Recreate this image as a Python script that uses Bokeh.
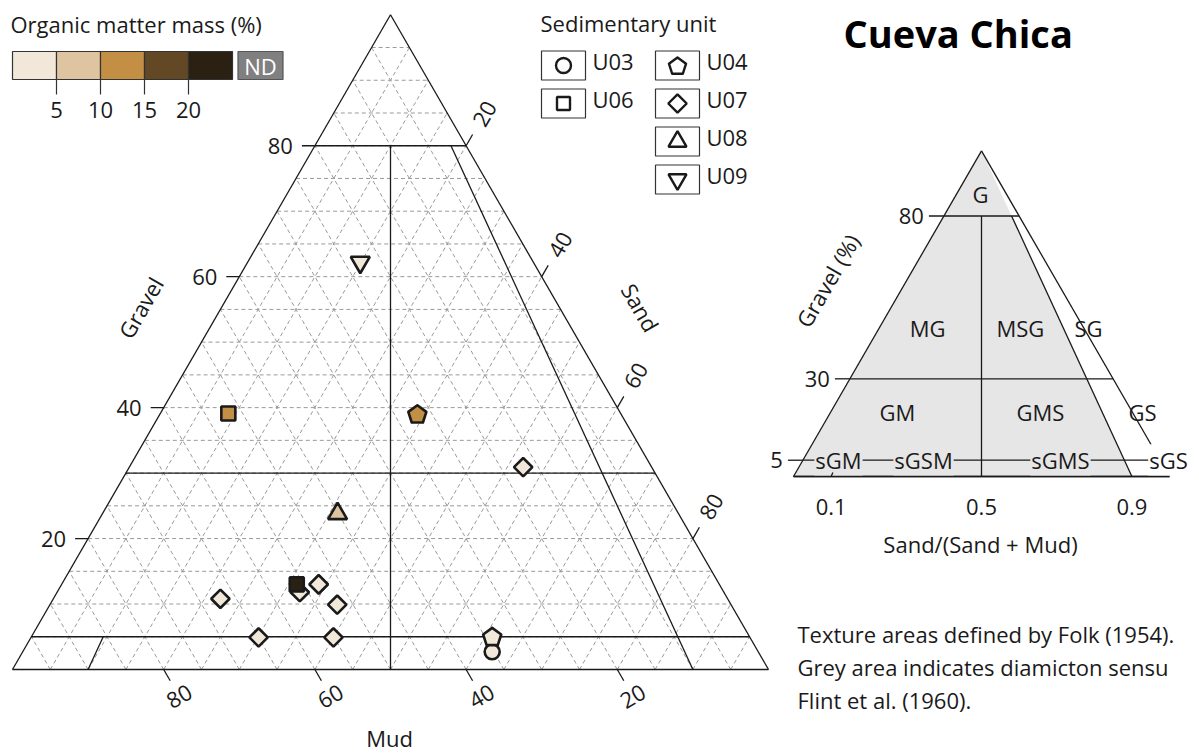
import numpy as np
from bokeh.plotting import figure
from bokeh.models import Range1d, ColumnDataSource
from bokeh.core.properties import value
from bokeh.embed import file_html
from bokeh.resources import INLINE

# ---------------- data ----------------
units   = ["U03", "U07", "U07", "U07", "U07", "U07", "U07", "U07", "U07",
           "U06", "U06", "U04", "U04", "U08", "U09"]
gravel  = [2.7, 30.9, 11.8, 13.0, 9.9, 10.8, 4.9, 4.9, 13.0,
           13.0, 39.1, 38.9, 4.9, 23.8, 62.2]
sand    = [62.1, 52.1, 32.1, 34.0, 38.0, 22.1, 30.1, 40.0, 34.0,
           31.1, 9.0, 34.1, 61.0, 31.1, 14.9]
mud     = [35.2, 17.0, 56.1, 53.0, 52.1, 67.1, 65.0, 55.1, 53.0,
           55.9, 51.9, 27.0, 34.1, 45.1, 22.9]
organic = [3.0, 2.5, 3.0, 3.5, 3.0, 2.5, 3.0, 3.0, 3.5,
           22.0, 12.5, 12.0, 3.5, 7.5, 3.0]

om_edges  = [5, 10, 15, 20]
om_labels = ["5", "10", "15", "20"]
om_colors = ["#F2E8DA", "#DFC4A1", "#C28F45", "#634826", "#2B2113"]
nd_color  = "#808080"

unit_names   = ["U03", "U04", "U06", "U07", "U08", "U09"]
unit_markers = {"U03": "circle", "U04": "pentagon", "U06": "square",
                "U07": "diamond", "U08": "triangle", "U09": "inverted_triangle"}

grav_ticks = [20, 40, 60, 80]
sand_ticks = [20, 40, 60, 80]
mud_ticks  = [80, 60, 40, 20]
grid_step  = 5

# Folk (1954) texture classes: label, gravel %, sand % at label position
folk_regions = [("G", 86.9, 6.3), ("MG", 45.5, 12.9), ("MSG", 45.5, 37.6), ("SG", 45.5, 55.7),
                ("GM", 19.7, 17.8), ("GMS", 19.7, 55.8), ("GS", 19.7, 83.0)]
folk_gravel_ticks = [80, 30, 5]
folk_ratio_ticks = ["0.1", "0.5", "0.9"]

FONT = "Open Sans"
INK = "#1a1a1a"
SQ = np.sqrt(3) / 2

# main triangle frame (screen units)
MX0, MY0, MW = 12, 669, 756
# Folk diagram frame
FX0, FY0, FW = 793, 476, 376

PW, PH = 1195, 753


def tern(g, s, X0, Y0, W):
    g = np.asarray(g, float)
    s = np.asarray(s, float)
    return X0 + W * (s + g / 2) / 100, Y0 - W * SQ * g / 100


p = figure(width=PW, height=PH, x_range=Range1d(0, PW), y_range=Range1d(PH, 0),
           output_backend="svg", toolbar_location=None, min_border=0,
           x_axis_type=None, y_axis_type=None)
p.outline_line_color = None
p.background_fill_color = "white"


def txt(x, y, t, size="22px", align="center", baseline="middle", angle=0.0,
        color=INK, style="normal", **kw):
    p.text(x=[x], y=[y], text=[t], text_font=value(FONT), text_font_size=size,
           text_align=align, text_baseline=baseline, angle=angle,
           text_color=color, text_font_style=style, **kw)


def segs(pairs, X0, Y0, W):
    xs, ys = [], []
    for (g1, s1), (g2, s2) in pairs:
        x, y = tern([g1, g2], [s1, s2], X0, Y0, W)
        xs.append(list(x)); ys.append(list(y))
    return xs, ys


# ---------------- main ternary ----------------
lv = np.arange(grid_step, 100, grid_step)
gpairs = []
for v in lv:
    gpairs.append(((v, 0), (v, 100 - v)))          # constant gravel
    gpairs.append(((0, v), (100 - v, v)))          # constant sand
    gpairs.append(((0, 100 - v), (100 - v, 0)))    # constant mud
xs, ys = segs(gpairs, MX0, MY0, MW)
p.multi_line(xs, ys, line_color="#9a9a9a", line_width=1, line_dash="4 3")

solid = [((80, 0), (80, 20)), ((30, 0), (30, 70)), ((5, 0), (5, 95)),
         ((80, 0.5 * 20), (0, 50)), ((80, 0.9 * 20), (0, 90)), ((5, 0.1 * 95), (0, 10)),
         ((0, 0), (0, 100)), ((0, 100), (100, 0)), ((100, 0), (0, 0))]
xs, ys = segs(solid, MX0, MY0, MW)
p.multi_line(xs, ys, line_color=INK, line_width=1.3)

ux, uy = np.cos(np.pi / 3), np.sin(np.pi / 3)
# gravel axis
for g in grav_ticks:
    x, y = tern(g, 0, MX0, MY0, MW)
    p.line([x - 13, x], [y, y], line_color=INK, line_width=1.3)
    txt(x - 22, y, str(g), align="right")
txt(140, 307, "Gravel", angle=np.pi / 3)
# sand axis
for s in sand_ticks:
    x, y = tern(100 - s, s, MX0, MY0, MW)
    p.line([x, x + 13 * ux], [y, y - 13 * uy], line_color=INK, line_width=1.3)
    txt(x + 37 * ux, y - 37 * uy, str(s), angle=np.pi / 3)
txt(640, 307, "Sand", angle=-np.pi / 3)
# mud axis
for m in mud_ticks:
    x, y = tern(0, 100 - m, MX0, MY0, MW)
    p.line([x, x + 13 * ux], [y, y + 13 * uy], line_color=INK, line_width=1.3)
    txt(x + 31 * ux, y + 31 * uy, str(m), angle=np.pi / 6)
txt(389, 737, "Mud")

# data points
cols = [om_colors[int(np.searchsorted(om_edges, o, side="right"))] for o in organic]
px, py = tern(gravel, sand, MX0, MY0, MW)
order = ["U03", "U07", "U06", "U04", "U08", "U09"]
LWD = 2.6
for u in order:
    idx = [i for i, uu in enumerate(units) if uu == u]
    src = ColumnDataSource(dict(x=[px[i] for i in idx], y=[py[i] for i in idx],
                                c=[cols[i] for i in idx]))
    mk = unit_markers[u]
    if mk == "pentagon":
        r = 9.5
        th = np.arange(5) * 2 * np.pi / 5
        pxs = [list(px[i] + r * np.sin(th)) for i in idx]
        pys = [list(py[i] - r * np.cos(th)) for i in idx]
        p.patches(pxs, pys, fill_color=[cols[i] for i in idx], line_color=INK,
                  line_width=LWD, line_join="round")
    elif mk == "diamond":
        p.scatter("x", "y", source=src, marker="square", angle=np.pi / 4, size=13,
                  fill_color="c", line_color=INK, line_width=LWD)
    elif mk == "circle":
        p.scatter("x", "y", source=src, marker="circle", size=15,
                  fill_color="c", line_color=INK, line_width=LWD)
    elif mk == "square":
        p.scatter("x", "y", source=src, marker="square", size=14,
                  fill_color="c", line_color=INK, line_width=LWD)
    else:
        p.scatter("x", "y", source=src, marker=mk, size=19,
                  fill_color="c", line_color=INK, line_width=LWD)

# ---------------- organic matter legend ----------------
txt(10, 23, "Organic matter mass (%)", align="left")
bx0, bw = 12, 44
bxs = [bx0 + bw * (i + 0.5) for i in range(len(om_colors))]
p.rect(x=bxs, y=[65] * len(bxs), width=bw, height=28, fill_color=om_colors,
       line_color="#333333", line_width=1.2)
for i, lab in enumerate(om_labels):
    xx = bx0 + bw * (i + 1)
    p.line([xx, xx], [79, 94], line_color="#333333", line_width=1.2)
    txt(xx, 109, lab)
p.rect(x=[260], y=[65], width=45, height=28, fill_color=nd_color,
       line_color="#555555", line_width=1.2)
txt(260, 65, "ND", color="white")

# ---------------- unit legend ----------------
txt(540, 22, "Sedimentary unit", align="left")
leg_pos = {"U03": (563, 65), "U06": (563, 103), "U04": (677, 65),
           "U07": (677, 103), "U08": (677, 141), "U09": (677, 179)}
for u in unit_names:
    cx, cy = leg_pos[u]
    p.rect(x=[cx], y=[cy], width=44, height=29, fill_color="white",
           line_color="#333333", line_width=1.2)
    mk = unit_markers[u]
    if mk == "pentagon":
        th = np.arange(5) * 2 * np.pi / 5
        p.patch(list(cx + 9 * np.sin(th)), list(cy + 1 - 9 * np.cos(th)),
                fill_color="white", line_color=INK, line_width=2.4, line_join="round")
    elif mk == "diamond":
        p.scatter([cx], [cy], marker="square", angle=np.pi / 4, size=13,
                  fill_color="white", line_color=INK, line_width=2.4)
    elif mk == "circle":
        p.scatter([cx], [cy], marker="circle", size=15, fill_color="white",
                  line_color=INK, line_width=2.4)
    elif mk == "square":
        p.scatter([cx], [cy], marker="square", size=13, fill_color="white",
                  line_color=INK, line_width=2.4)
    else:
        p.scatter([cx], [cy], marker=mk, size=18, fill_color="white",
                  line_color=INK, line_width=2.4)
    txt(cx + 29, cy - 5, u, align="left")

# ---------------- title ----------------
txt(843, 32, "Cueva Chica", size="38px", align="left", style="bold", color="black")

# ---------------- Folk diagram ----------------
gxp, gyp = tern([0, 0, 100], [0, 90, 0], FX0, FY0, FW)
p.patch(list(gxp), list(gyp), fill_color="#E6E6E6", line_color=None)
fsolid = [((0, 0), (0, 100)), ((0, 100), (100, 0)),
          ((80, 0), (80, 20)), ((30, 0), (30, 70)), ((5, 0), (5, 95)),
          ((80, 10), (0, 50)), ((80, 18), (0, 90))]
xs, ys = segs(fsolid, FX0, FY0, FW)
p.multi_line(xs, ys, line_color=INK, line_width=1.3)
for g in folk_gravel_ticks:
    x, y = tern(g, 0, FX0, FY0, FW)
    p.line([x - 15, x], [y, y], line_color=INK, line_width=1.3)
    txt(x - 20, y, str(g), align="right")
txt(827, 280, "Gravel (%)", angle=np.pi / 3)
for lab in folk_ratio_ticks:
    x, y = tern(0, float(lab) * 100, FX0, FY0, FW)
    txt(x, y + 30, lab)
txt(980, 543, "Sand/(Sand + Mud)")
for lab, g, s in folk_regions:
    x, y = tern(g, s, FX0, FY0, FW)
    txt(x, y, lab)
y5 = tern(5, 0, FX0, FY0, FW)[1]
for lab, xx, bg in [("sGM", 838, "#E6E6E6"), ("sGSM", 923, "#E6E6E6"),
                    ("sGMS", 1060, "#E6E6E6"), ("sGS", 1168, "white")]:
    txt(xx, y5, lab, background_fill_color=bg, padding=1)
# bottom edge and 0.1 stub drawn above the label backgrounds
xs, ys = segs([((100, 0), (0, 0)), ((0, 0), (0, 100)), ((1.2, 9.88), (0, 10))], FX0, FY0, FW)
p.multi_line(xs, ys, line_color=INK, line_width=1.3)

# ---------------- footnote ----------------
for i, line in enumerate(["Texture areas defined by Folk (1954).",
                          "Grey area indicates diamicton sensu",
                          "Flint et al. (1960)."]):
    txt(797, 633 + 33 * i, line, align="left")

open("out.html", "w").write(file_html(p, INLINE))
